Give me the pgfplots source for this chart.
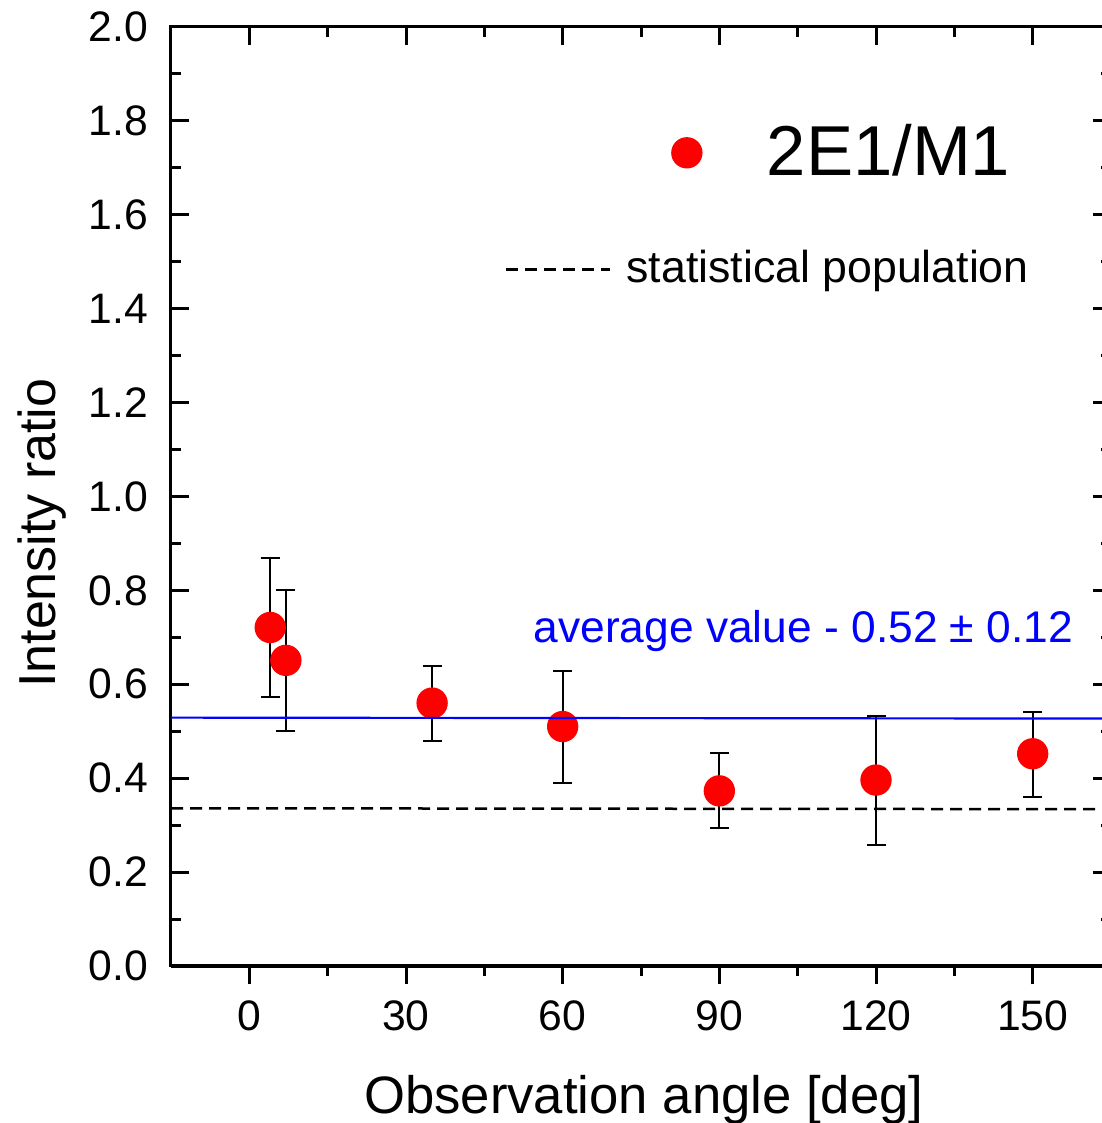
\documentclass[border=0pt]{standalone}
\usepackage{pgfplots}
\pgfplotsset{compat=1.18}
\usepackage{pgfplotstable}
\usepackage{fontspec}
\setmainfont{Liberation Sans}
\pgfplotstableread{
x   y     ep    em
4   0.721 0.149 0.149
7   0.651 0.149 0.151
35  0.560 0.080 0.081
60  0.510 0.118 0.120
90  0.373 0.081 0.080
120 0.396 0.137 0.139
150 0.452 0.089 0.091
}\ratiodata
\pgfplotstableread{
x    y
-15  0.529
165  0.527
}\avgline
\pgfplotstableread{
x    y
-15  0.336
165  0.334
}\statline
\pgfplotsset{
  common/.style={
    width=282pt, height=281.7pt, scale only axis,
    xmin=-15, xmax=165, ymin=0, ymax=2.0,
    xtick={0,30,60,90,120,150},
    ytick={0,0.2,0.4,0.6,0.8,1.0,1.2,1.4,1.6,1.8,2.0},
    minor x tick num=1, minor y tick num=1,
    major tick length=5.5pt, minor tick length=3pt,
    every tick/.style={black, line width=0.9pt},
    axis line style={black, line width=0.9pt},
    /pgf/number format/assume math mode=true,
    tick label style={font=\fontsize{12.8}{15}\selectfont},
    yticklabel style={/pgf/number format/fixed, /pgf/number format/fixed zerofill, /pgf/number format/precision=1},
  },
  redleg/.style={legend image code/.code={\draw[##1] plot coordinates {(0.3cm,0cm)}; \path (0cm,0cm) (30.3pt,0cm);}},
  dashleg/.style={legend image code/.code={\draw[##1] (0pt,0pt) -- (31pt,0pt); \path (33.7pt,0pt);}},
}
\begin{document}
\begin{tikzpicture}
\begin{axis}[common,
  tick align=inside,
  xtick pos=right, xticklabels={},
  ytick pos=both, yticklabel pos=left,
  yticklabel style={xshift=-3.3pt},
  ylabel={Intensity ratio},
  ylabel style={at={(axis description cs:-0.1234,0.461)}, anchor=base, font=\fontsize{15.6}{18}\selectfont},
  legend style={draw=none, fill=none, at={(rel axis cs:0.5178,0.866)}, anchor=west,
    inner sep=0pt, outer sep=0pt, font=\fontsize{21.2}{25}\selectfont},
  redleg,
]
\addplot[draw=none, mark=none, forget plot,
  error bars/.cd, y dir=both, y explicit,
  error bar style={black, line width=0.6pt},
  error mark options={rotate=90, mark size=2.85pt, line width=0.6pt, black}]
  table[x=x, y=y, y error plus=ep, y error minus=em] {\ratiodata};
\addplot[only marks, mark=*, mark size=4.5pt, color=red, fill=red]
  table[x=x, y=y] {\ratiodata};
\addlegendentry{2E1/M1}
\end{axis}
\begin{axis}[common,
  axis x line*=bottom, hide y axis,
  tick align=outside,
  xticklabel style={yshift=-1.5pt},
  xlabel={Observation angle [deg]},
  xlabel style={at={(axis description cs:0.503,-0.1576)}, anchor=base, inner sep=0pt, font=\fontsize{15.8}{18}\selectfont},
  legend style={draw=none, fill=none, at={(rel axis cs:0.3553,0.742)}, anchor=west,
    inner sep=0pt, outer sep=0pt, font=\fontsize{13.4}{16}\selectfont},
  dashleg,
]
\addplot[blue, line width=0.65pt, forget plot] table[x=x, y=y] {\avgline};
\addplot[black, line width=0.75pt, dash pattern=on 3.6pt off 2.1pt]
  table[x=x, y=y] {\statline};
\addlegendentry{statistical population}
\node[anchor=base west, inner sep=0pt, text=blue, font=\fontsize{13.3}{16}\selectfont]
  at (axis cs:54.3,0.688) {average value - 0.52 ± 0.12};
\coordinate (ll) at (rel axis cs:0,0);
\coordinate (ur) at (rel axis cs:1,1);
\end{axis}
\pgfresetboundingbox
\useasboundingbox ([shift={(-51.3pt,-47.1pt)}]ll) rectangle ([shift={(-2.7pt,8.1pt)}]ur);
\end{tikzpicture}
\end{document}
